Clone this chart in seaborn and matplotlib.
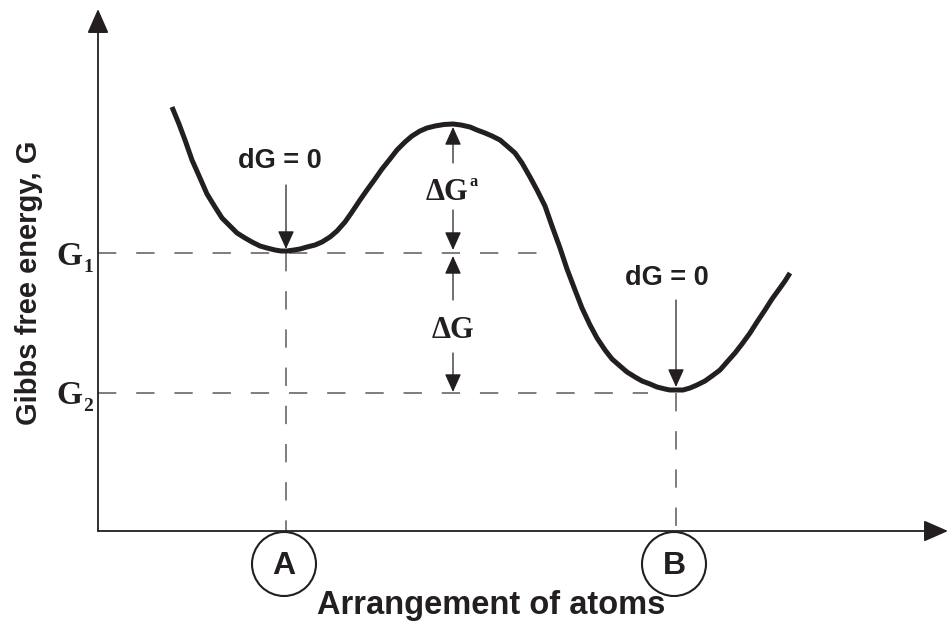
import matplotlib
matplotlib.use("Agg")
import matplotlib.pyplot as plt
from matplotlib.patches import Circle
import numpy as np
import pandas as pd
import seaborn as sns

# energy curve (pixel-like units, y grows downwards)
curve_x = [172, 179, 185, 192, 200, 207, 215, 222, 230, 237, 245, 252, 260, 267, 275,
           281, 287, 294, 300, 307, 315, 322, 330, 337, 345, 352, 360, 367,
           375, 382, 390, 397, 405, 412, 420, 427, 435, 444, 453, 461, 470, 477,
           485, 492, 500, 507, 515, 522, 530, 537, 545, 552, 560, 567, 575,
           582, 590, 597, 605, 612, 620, 627, 635, 642, 650, 657, 665, 670, 676,
           683, 690, 697, 705, 712, 720, 727, 735, 742, 750, 757, 765, 772, 780, 785, 790]
curve_g = [107, 124, 140, 160, 178, 194, 207, 218, 226, 233, 238, 242, 246, 248, 250,
           251, 251, 250, 249, 247, 245, 242, 237, 231, 222, 212, 200, 190,
           179, 169, 159, 150, 142, 136, 131, 128, 126, 124.5, 124, 125, 127, 130,
           133, 136, 140, 146, 153, 163, 177, 190, 206, 226, 248, 269, 290,
           308, 325, 338, 350, 359, 366, 372, 377, 381, 384, 387, 389, 390, 390,
           390, 388, 385, 381, 376, 370, 362, 353, 344, 333, 322, 310, 299, 288, 281, 273]

state_names = ["A", "B"]
level_names = ["G", "G"]
level_subs = ["1", "2"]

ink = "#231f20"
dash_col = "#5a5a5a"

df = pd.DataFrame({"x": curve_x, "G": curve_g})
cx = np.array(curve_x)
cg = np.array(curve_g)
left = cx < 453
# y grows downwards, so an energy minimum is the largest value
g1 = cg[left][15:].max()
g2 = cg[~left].max()
mid = (cx > 400) & (cx < 500)
x_peak, g_peak = cx[mid][np.argmin(cg[mid])], cg[mid].min()
x_a = 286
x_b = 676

sns.set_style("white")
fig = plt.figure(figsize=(9.48, 6.26), dpi=100)
ax = fig.add_axes([0, 0, 1, 1])

x0, y0 = 98, 531


def arrow(p0, p1, lw=0.9, scale=14, hl=0.8, hw=0.36):
    ax.annotate("", xy=p1, xytext=p0,
                arrowprops=dict(arrowstyle=f"-|>,head_length={hl},head_width={hw}",
                                color=ink, lw=lw, shrinkA=0, shrinkB=0,
                                mutation_scale=scale))


# the energy curve
sns.lineplot(data=df, x="x", y="G", ax=ax, color=ink, lw=3.6,
             solid_capstyle="butt", solid_joinstyle="round", legend=False, zorder=5)
ax.set_xlim(0, 948)
ax.set_ylim(626, 0)
ax.axis("off")

# axes with arrow heads
arrow((x0, y0), (x0, 9), lw=1.3, scale=20, hl=0.75, hw=0.33)
arrow((x0, y0), (948, y0), lw=1.3, scale=20, hl=0.75, hw=0.33)

# dashed guide lines
dash = dict(color=dash_col, lw=1.1, dashes=(12, 13))
ax.plot([x0, 548], [g1 + 2, g1 + 2], **dash)
ax.plot([x0, 648], [g2 + 3, g2 + 3], **dash)
ax.plot([x_a, x_a], [g1 + 2, y0], **dash)
ax.plot([x_b, x_b], [g2 + 3, y0], **dash)

# dG = 0 markers
sans = ["Liberation Sans", "DejaVu Sans"]
serif = ["Liberation Serif", "DejaVu Serif"]
ax.text(x_a - 6, 161, "dG = 0", fontsize=19.5, fontweight="bold", family=sans,
        ha="center", va="center", color=ink)
arrow((x_a, 185), (x_a, g1 - 2))
ax.text(x_b - 9, 278, "dG = 0", fontsize=19.5, fontweight="bold", family=sans,
        ha="center", va="center", color=ink)
arrow((x_b, 300), (x_b, g2 - 3))

# activation energy and driving force
arrow((x_peak, 163), (x_peak, g_peak + 3))
arrow((x_peak, 210), (x_peak, g1 - 1))
arrow((x_peak, 300), (x_peak, g1 + 5))
arrow((x_peak, 353), (x_peak, g2 + 2))
ax.text(x_peak - 6, 192, "ΔG", fontsize=22, fontweight="bold", family=serif,
        ha="center", va="center", color=ink)
ax.text(x_peak + 21, 182, "a", fontsize=12, fontweight="bold", family=serif,
        ha="center", va="center", color=ink)
ax.text(x_peak, 330, "ΔG", fontsize=22, fontweight="bold", family=serif,
        ha="center", va="center", color=ink)

# G1 / G2 level labels
for name, sub, lev in zip(level_names, level_subs, [g1, g2]):
    ax.text(82, lev + 14, name, fontsize=24, fontweight="bold", family=serif,
            ha="right", va="baseline", color=ink)
    ax.text(83, lev + 21, sub, fontsize=14, fontweight="bold", family=serif,
            ha="left", va="baseline", color=ink)

# circled states on the x axis
for name, xs in zip(state_names, [x_a, x_b]):
    ax.add_patch(Circle((xs - 2, 564), 32, fill=False, lw=1.5, ec=ink))
    ax.text(xs - 2, 566, name, fontsize=23, fontweight="bold", family=sans,
            ha="center", va="center", color=ink)

ax.text(491, 614, "Arrangement of atoms", fontsize=23.5, fontweight="bold",
        family=sans, ha="center", va="baseline", color=ink)
ax.text(29, 283, "Gibbs free energy, G", fontsize=21, fontweight="bold",
        family=sans, rotation=90, ha="center", va="center", color=ink)

fig.savefig("out.png", dpi=100)
